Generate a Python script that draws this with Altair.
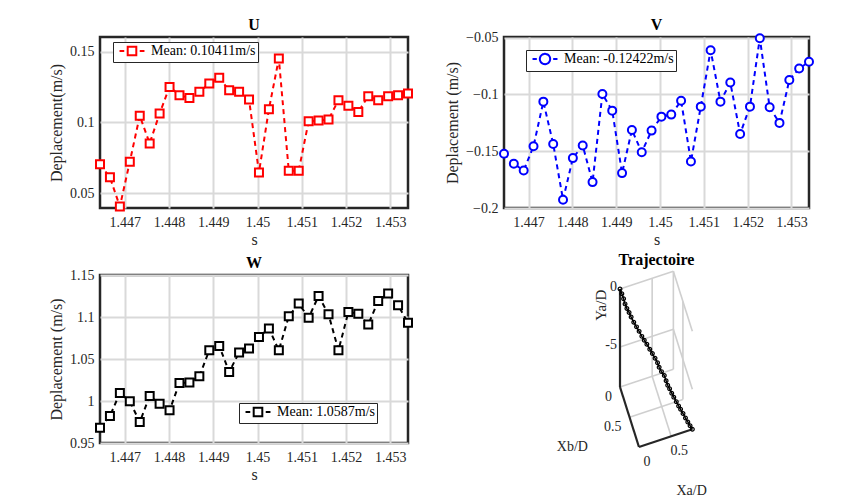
import altair as alt
import numpy as np
import pandas as pd

FONT = "Liberation Serif"
INK = "#262626"
GRID = "#d9d9d9"

# Sample times (s)
times = [1.4464400, 1.4466645, 1.4468890, 1.4471135, 1.4473380, 1.4475625,
         1.4477870, 1.4480115, 1.4482360, 1.4484605, 1.4486850, 1.4489095,
         1.4491340, 1.4493585, 1.4495830, 1.4498075, 1.4500320, 1.4502565,
         1.4504810, 1.4507055, 1.4509300, 1.4511545, 1.4513790, 1.4516035,
         1.4518280, 1.4520525, 1.4522770, 1.4525015, 1.4527260, 1.4529505,
         1.4531750, 1.4533995]

# Velocity components (m/s)
u_vals = [0.0704, 0.0612, 0.0405, 0.0722, 0.1047, 0.0852, 0.1064, 0.1252,
          0.1193, 0.1174, 0.1217, 0.1276, 0.1316, 0.1228, 0.1217, 0.1162,
          0.0647, 0.1094, 0.1452, 0.0659, 0.0659, 0.1009, 0.1014, 0.1021,
          0.1158, 0.1118, 0.1075, 0.1186, 0.1158, 0.1186, 0.1193, 0.1205]
v_vals = [-0.1523, -0.1611, -0.1670, -0.1456, -0.1064, -0.1436, -0.1927, -0.1561,
          -0.1450, -0.1772, -0.0997, -0.1143, -0.1693, -0.1313, -0.1509, -0.1319,
          -0.1196, -0.1178, -0.1056, -0.1591, -0.1108, -0.0611, -0.1064, -0.0895,
          -0.1348, -0.1108, -0.0506, -0.1114, -0.1251, -0.0874, -0.0772, -0.0713]
w_vals = [0.9682, 0.9821, 1.0095, 0.9996, 0.9749, 1.0060, 0.9968, 0.9889,
          1.0215, 1.0219, 1.0294, 1.0604, 1.0656, 1.0346, 1.0577, 1.0624,
          1.0763, 1.0863, 1.0604, 1.1008, 1.1160, 1.0992, 1.1250, 1.1032,
          1.0604, 1.1060, 1.1040, 1.0911, 1.1189, 1.1280, 1.1141, 1.0931]

u_label = "Mean: 0.10411m/s"
v_label = "Mean: -0.12422m/s"
w_label = "Mean: 1.0587m/s"

x_ticks = [1.447, 1.448, 1.449, 1.45, 1.451, 1.452, 1.453]
u_ticks = [0.05, 0.1, 0.15]
v_ticks = [-0.2, -0.15, -0.1, -0.05]
w_ticks = [0.95, 1.0, 1.05, 1.1, 1.15]

# Legend glyphs: dash - marker - dash
SQUARE_GLYPH = "M-2.9,0H-1.8M-1,-1H1V1H-1ZM1.8,0H2.9"
CIRCLE_GLYPH = "M-2.9,0H-1.9M-1.2,0A1.2,1.2,0,1,1,1.2,0A1.2,1.2,0,1,1,-1.2,0ZM1.9,0H2.9"


def panel_title(text, dy=0):
    return alt.TitleParams(text=text, font=FONT, fontSize=16, fontWeight="bold",
                           color="black", offset=4, dy=dy)


def velocity_panel(values, label, color, shape, glyph, y_domain, y_ticks,
                   y_title, title, title_dy, width, height, leg_x, leg_y):
    df = pd.DataFrame({"t": times, "v": values, "series": label})
    base = alt.Chart(df).encode(
        x=alt.X("t:Q",
                scale=alt.Scale(domain=[times[0], times[-1]], nice=False, zero=False),
                axis=alt.Axis(values=x_ticks, format="~g", title="s",
                              labelFont=FONT, titleFont=FONT)),
        y=alt.Y("v:Q",
                scale=alt.Scale(domain=y_domain, nice=False, zero=False),
                axis=alt.Axis(values=y_ticks, format="~g", title=y_title,
                              labelFont=FONT, titleFont=FONT)),
        color=alt.Color("series:N",
                        scale=alt.Scale(domain=[label], range=[color]),
                        legend=alt.Legend(orient="none", legendX=leg_x, legendY=leg_y,
                                          symbolType=glyph, title=None)),
    )
    line = base.mark_line(strokeDash=[5, 4], strokeWidth=2)
    pts = base.mark_point(shape=shape, filled=False, fill="white", size=64,
                          strokeWidth=2, opacity=1)
    return alt.layer(line, pts).properties(width=width, height=height,
                                           title=panel_title(title, title_dy))


u_chart = velocity_panel(u_vals, u_label, "#ff0000", "square", SQUARE_GLYPH,
                         [0.0395, 0.1605], u_ticks, "Deplacement(m/s)", "U", 0,
                         308, 171, 13, 5)
v_chart = velocity_panel(v_vals, v_label, "#0000ff", "circle", CIRCLE_GLYPH,
                         [-0.2, -0.0495], v_ticks, "Deplacement (m/s)", "V", 7,
                         305, 171, 22, 13)
w_chart = velocity_panel(w_vals, w_label, "#000000", "square", SQUARE_GLYPH,
                         [0.95, 1.15], w_ticks, "Deplacement (m/s)", "W", 7,
                         308, 168, 139, 128)

# ---- Trajectory: integrate the velocities, then draw an oblique 3D box ----
D = 0.9e-3
dt = float(np.mean(np.diff(times)))
xa = np.concatenate([[0.0], np.cumsum(u_vals)]) * dt / D
xb = -np.concatenate([[0.0], np.cumsum(v_vals)]) * dt / D
ya = -np.concatenate([[0.0], np.cumsum(w_vals)]) * dt / D
xa_max, xb_max, ya_min = float(xa.max()), float(xb.max()), float(ya.min())

# screen-space view basis (pixels per unit) and origin of the panel
ORIGIN = (116.0, 14.0)
XA_DIR = (64.3, -21.3)
XB_DIR = (19.1, 60.4)
YA_DIR = (0.0, -11.6)


def proj(a, b, c):
    return (ORIGIN[0] + a * XA_DIR[0] + b * XB_DIR[0] + c * YA_DIR[0],
            ORIGIN[1] + a * XA_DIR[1] + b * XB_DIR[1] + c * YA_DIR[1])


xa_ticks = [0, 0.5]
xb_ticks = [0, 0.5]
ya_ticks = [0, -5]

grid_segments = [
    # floor
    ((0.5, 0, ya_min), (0.5, xb_max, ya_min)),
    ((0, 0, ya_min), (xa_max, 0, ya_min)),
    ((0, 0.5, ya_min), (xa_max, 0.5, ya_min)),
    # back wall Xb = 0
    ((0, 0, 0), (xa_max, 0, 0)),
    ((0, 0, -5), (xa_max, 0, -5)),
    ((0.5, 0, ya_min), (0.5, 0, 0)),
    # back wall Xa = max
    ((xa_max, 0, 0), (xa_max, xb_max, 0)),
    ((xa_max, 0, -5), (xa_max, xb_max, -5)),
    ((xa_max, 0, ya_min), (xa_max, 0, 0)),
    ((xa_max, 0.5, ya_min), (xa_max, 0.5, 0)),
]
axis_segments = [
    ((0, 0, ya_min), (0, 0, 0)),
    ((0, 0, ya_min), (0, xb_max, ya_min)),
    ((0, xb_max, ya_min), (xa_max, xb_max, ya_min)),
]


def segments_frame(segs):
    rows = []
    for k, (p, q) in enumerate(segs):
        for j, pt in enumerate((p, q)):
            px, py = proj(*pt)
            rows.append({"seg": k, "o": j, "x": px, "y": py})
    return pd.DataFrame(rows)


grid_df = segments_frame(grid_segments)
axes_df = segments_frame(axis_segments)

traj_xy = [proj(a, b, c) for a, b, c in zip(xa, xb, ya)]
traj_df = pd.DataFrame({"i": range(len(traj_xy)),
                        "x": [p[0] for p in traj_xy],
                        "y": [p[1] for p in traj_xy]})


def label_rows(items):
    rows = []
    for text, pt, off in items:
        px, py = proj(*pt)
        rows.append({"x": px + off[0], "y": py + off[1], "text": text})
    return pd.DataFrame(rows)


right_labels = label_rows(
    [(f"{v:g}", (0, 0, v), (-3, -2)) for v in ya_ticks]
    + [(f"{v:g}", (0, v, ya_min), (-8, 10)) for v in xb_ticks]
)
center_labels = label_rows(
    [(f"{v:g}", (v, xb_max, ya_min), (8, 15)) for v in xa_ticks]
    + [("Xb/D", (0, 0.55 * xb_max, ya_min), (-58, 27)),
       ("Xa/D", (0.5 * xa_max, xb_max, ya_min), (26, 53))]
)
rot_labels = label_rows([("Ya/D", (0, 0, -1.4), (-19, 0))])

T_W, T_H = 305, 215
tx = alt.X("x:Q", scale=alt.Scale(domain=[0, T_W], nice=False, zero=False), axis=None)
ty = alt.Y("y:Q", scale=alt.Scale(domain=[0, T_H], nice=False, zero=False, reverse=True),
           axis=None)

grid_layer = alt.Chart(grid_df).mark_line(color="#cfcfcf", strokeWidth=1.6).encode(
    x=tx, y=ty, detail="seg:N", order="o:Q")
axes_layer = alt.Chart(axes_df).mark_line(color=INK, strokeWidth=2.2).encode(
    x=tx, y=ty, detail="seg:N", order="o:Q")
traj_line = alt.Chart(traj_df).mark_line(color="black", strokeWidth=1.5).encode(
    x=tx, y=ty, order="i:Q")
traj_pts = alt.Chart(traj_df).mark_point(shape="circle", size=14, filled=False,
                                         color="black", strokeWidth=1.2,
                                         opacity=1).encode(x=tx, y=ty)
txt_right = alt.Chart(right_labels).mark_text(
    align="right", baseline="middle", font=FONT, fontSize=14, color=INK).encode(
    x=tx, y=ty, text="text:N")
txt_center = alt.Chart(center_labels).mark_text(
    align="center", baseline="middle", font=FONT, fontSize=14, color=INK).encode(
    x=tx, y=ty, text="text:N")
txt_rot = alt.Chart(rot_labels).mark_text(
    align="center", baseline="middle", angle=270, font=FONT, fontSize=15, color=INK).encode(
    x=tx, y=ty, text="text:N")

t_chart = alt.layer(grid_layer, axes_layer, traj_line, traj_pts,
                    txt_right, txt_center, txt_rot).properties(
    width=T_W, height=T_H, title=panel_title("Trajectoire", 4),
    view=alt.ViewBackground(stroke="transparent"))

chart = alt.concat(u_chart, v_chart, w_chart, t_chart, columns=2,
                   spacing={"row": 1, "column": 25}).resolve_scale(
    color="independent").resolve_legend(color="independent").properties(
    padding={"left": 47, "top": 15, "right": 5, "bottom": 0}
).configure(font=FONT).configure_view(
    stroke=INK, strokeWidth=2.5
).configure_axis(
    labelFont=FONT, labelFontSize=14, labelColor=INK,
    titleFont=FONT, titleFontSize=16, titleFontWeight="normal", titleColor=INK,
    tickSize=0, labelPadding=6, titlePadding=5, domain=False,
    grid=True, gridColor=GRID, gridWidth=2
).configure_axisX(labelPadding=7, titlePadding=2).configure_legend(
    labelFont=FONT, labelFontSize=14, labelColor="black",
    fillColor="white", strokeColor=INK, padding=2, cornerRadius=0,
    symbolSize=74, symbolStrokeWidth=2, symbolFillColor="white",
    symbolDash=[1, 0], symbolOffset=10, labelOffset=12
)

chart.save("out.html", embed_options={"renderer": "svg", "actions": False})
